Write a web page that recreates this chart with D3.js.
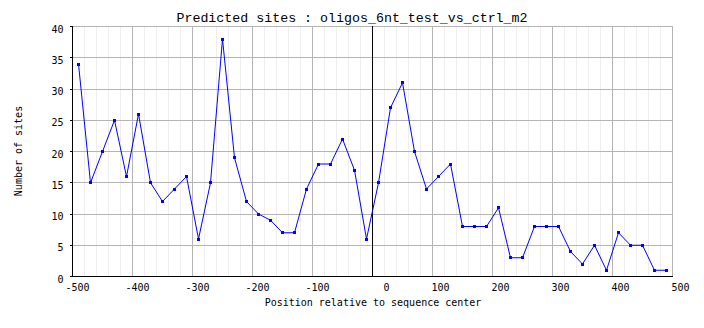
<!DOCTYPE html>
<html>
<head>
<meta charset="utf-8">
<script src="https://cdn.jsdelivr.net/npm/d3@7/dist/d3.min.js"></script>
<style>
  html, body { margin: 0; padding: 0; background: #fff; }
  svg { display: block; }
  text { font-family: "DejaVu Sans Mono", "Liberation Mono", monospace; fill: #000; }
</style>
</head>
<body>
<svg id="chart" width="704" height="328"></svg>
<script>
// Bin centres (position relative to sequence center) and site counts
const positions = [-490, -470, -450, -430, -410, -390, -370, -350, -330, -310,
                   -290, -270, -250, -230, -210, -190, -170, -150, -130, -110,
                   -90, -70, -50, -30, -10, 10, 30, 50, 70, 90,
                   110, 130, 150, 170, 190, 210, 230, 250, 270, 290,
                   310, 330, 350, 370, 390, 410, 430, 450, 470, 490];
const sites = [34, 15, 20, 25, 16, 26, 15, 12, 14, 16,
               6, 15, 38, 19, 12, 10, 9, 7, 7, 14,
               18, 18, 22, 17, 6, 15, 27, 31, 20, 14,
               16, 18, 8, 8, 8, 11, 3, 3, 8, 8,
               8, 4, 2, 5, 1, 7, 5, 5, 1, 1];
const xTicks = [-500, -400, -300, -200, -100, 0, 100, 200, 300, 400, 500];
const xMinorTicks = d3.range(-500, 501, 20);
const yTicks = [0, 5, 10, 15, 20, 25, 30, 35, 40];

const titleText = "Predicted sites : oligos_6nt_test_vs_ctrl_m2";
const xTitle = "Position relative to sequence center";
const yTitle = "Number of sites";

const svg = d3.select("#chart");
const W = 704, H = 328;
const m = { left: 72, right: 32, top: 26, bottom: 52 };

const x = d3.scaleLinear().domain([-500, 500]).range([m.left, W - m.right]);
const y = d3.scaleLinear().domain([0, 40]).range([H - m.bottom, m.top]);

const g = svg.append("g").attr("shape-rendering", "crispEdges");

// minor vertical grid
g.selectAll("line.minor").data(xMinorTicks).join("line")
  .attr("x1", d => x(d) + 0.5).attr("x2", d => x(d) + 0.5)
  .attr("y1", y(40)).attr("y2", y(0))
  .attr("stroke", "#eeeeee");

// major vertical grid
g.selectAll("line.vmaj").data(xTicks).join("line")
  .attr("x1", d => x(d) + 0.5).attr("x2", d => x(d) + 0.5)
  .attr("y1", y(40)).attr("y2", y(0))
  .attr("stroke", "#b4b4b4");

// horizontal grid
g.selectAll("line.hmaj").data(yTicks).join("line")
  .attr("x1", x(-500)).attr("x2", x(500) + 1)
  .attr("y1", d => y(d) + 0.5).attr("y2", d => y(d) + 0.5)
  .attr("stroke", "#b4b4b4");

// centre line
g.append("line")
  .attr("x1", x(0) + 0.5).attr("x2", x(0) + 0.5)
  .attr("y1", y(40)).attr("y2", y(0))
  .attr("stroke", "#000");

// y ticks (outward)
g.selectAll("line.ytick").data(yTicks).join("line")
  .attr("x1", x(-500) - 2).attr("x2", x(-500))
  .attr("y1", d => y(d) + 0.5).attr("y2", d => y(d) + 0.5)
  .attr("stroke", "#000");

// axes
g.append("line")
  .attr("x1", x(-500) + 0.5).attr("x2", x(-500) + 0.5)
  .attr("y1", y(40)).attr("y2", y(0) + 1)
  .attr("stroke", "#000");
g.append("line")
  .attr("x1", x(-500)).attr("x2", x(500) + 1)
  .attr("y1", y(0) + 0.5).attr("y2", y(0) + 0.5)
  .attr("stroke", "#000");

// tick labels
svg.selectAll("text.xl").data(xTicks).join("text")
  .attr("x", d => x(d) + 17.5).attr("y", y(0) + 15)
  .attr("text-anchor", "end").attr("font-size", 10)
  .text(d => d);

svg.selectAll("text.yl").data(yTicks).join("text")
  .attr("x", x(-500) - 8.5).attr("y", d => y(d) + 6.7)
  .attr("text-anchor", "end").attr("font-size", 10)
  .text(d => d);

// series line and markers
const pts = positions.map((p, i) => [p, sites[i]]);
svg.append("path")
  .attr("d", d3.line().x(d => x(d[0]) + 0.5).y(d => y(d[1]) + 0.5)(pts))
  .attr("fill", "none").attr("stroke", "#0000ff").attr("stroke-width", 1);

svg.append("g").attr("shape-rendering", "crispEdges")
  .selectAll("rect").data(pts).join("rect")
  .attr("x", d => x(d[0]) - 1).attr("y", d => y(d[1]) - 1)
  .attr("width", 3).attr("height", 3)
  .attr("fill", "#0000ff");

// titles
svg.append("text")
  .attr("x", W / 2).attr("y", 22)
  .attr("text-anchor", "middle").attr("font-size", 13.3)
  .style("font-family", "'Liberation Mono', 'DejaVu Sans Mono', monospace")
  .text(titleText);

svg.append("text")
  .attr("x", x(0) + 1).attr("y", 306)
  .attr("text-anchor", "middle").attr("font-size", 10)
  .text(xTitle);

svg.append("text")
  .attr("transform", `translate(21.5, ${y(20)}) rotate(-90)`)
  .attr("text-anchor", "middle").attr("font-size", 10)
  .text(yTitle);
</script>
</body>
</html>
